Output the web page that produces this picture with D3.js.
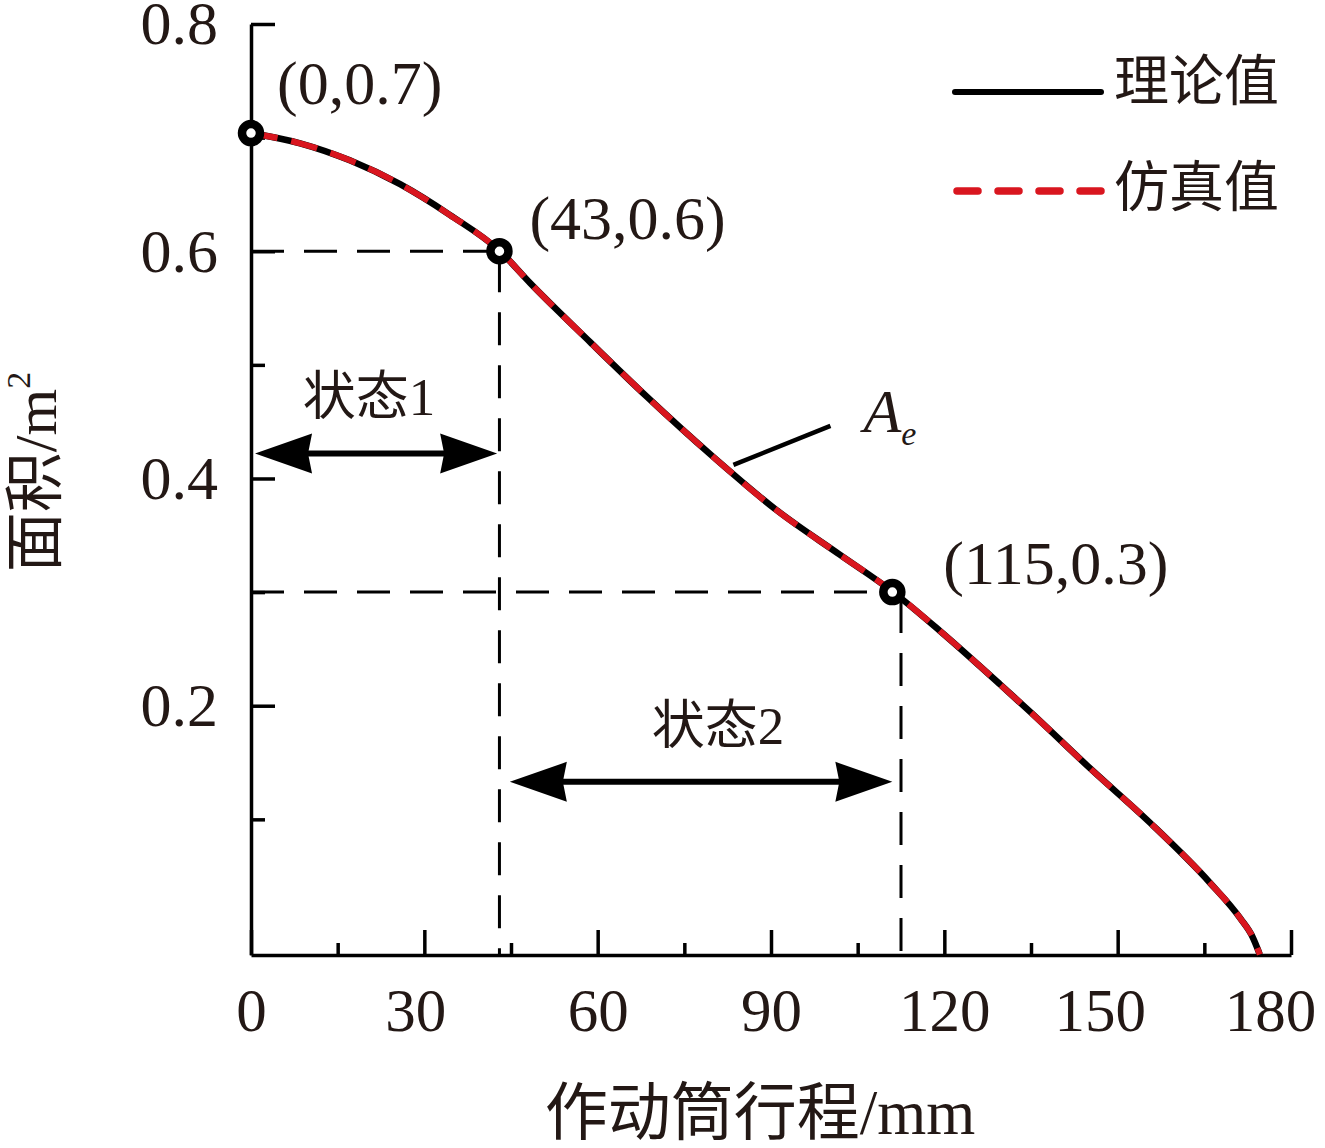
<!DOCTYPE html>
<html>
<head>
<meta charset="utf-8">
<script src="https://cdn.jsdelivr.net/npm/d3@7"></script>
<style>
  html, body { margin: 0; padding: 0; background: #fff; }
  svg { display: block; }
  text { fill: #231815; }
</style>
</head>
<body>
<svg id="chart" width="1325" height="1148"></svg>
<script>
// ---------------- data ----------------
const stroke = [0, 8.5, 17.1, 25.8, 34.4, 43.1, 48.3, 58.7, 68.5, 80.0, 91.0, 101.9, 110.9, 119.2, 129.6, 135.2, 145.2, 155.6, 166.0, 171.2, 173.4, 174.3, 174.6];
const theoryArea = [0.704, 0.695, 0.680, 0.659, 0.632, 0.600, 0.572, 0.520, 0.472, 0.419, 0.372, 0.333, 0.301, 0.266, 0.219, 0.193, 0.145, 0.097, 0.044, 0.013, -0.004, -0.015, -0.019];
const simArea    = [0.704, 0.695, 0.680, 0.659, 0.632, 0.600, 0.572, 0.520, 0.472, 0.419, 0.372, 0.333, 0.301, 0.266, 0.219, 0.193, 0.145, 0.097, 0.044, 0.013, -0.004, -0.015, -0.019];

const xTicks = [0, 30, 60, 90, 120, 150, 180];
const xMinorTicks = [15, 45, 75, 105, 135, 165];
const yTicks = [0.2, 0.4, 0.6, 0.8];
const yMinorTicks = [0.1, 0.3, 0.5, 0.7];

const seriesNames = ["理论值", "仿真值"];

const markerX = [0, 43, 111];
const markerY = [0.704, 0.6, 0.3];
const markerLabels = ["(0,0.7)", "(43,0.6)", "(115,0.3)"];

const guideX = [43, 112.5];       // vertical dashed boundaries
const guideY = [0.6, 0.3];        // horizontal dashed levels

const stateLabels = ["状态1", "状态2"];
const stateFrom = [0.7, 44.8];
const stateTo = [42.6, 111];
const stateLevel = [0.422, 0.133];

const xTitle = "作动筒行程/mm";
const yTitle = "面积/m";

// ---------------- layout ----------------
const svg = d3.select("#chart");
const serif = "'Liberation Serif','Times New Roman','Noto Sans CJK SC',serif";
const x = d3.scaleLinear().domain([0, 180]).range([251, 1291]);
const y = d3.scaleLinear().domain([-0.0194, 0.8]).range([955, 24]);
const ink = "#000";
const red = "#d9161f";

// axes
const gx = svg.append("g").attr("transform", `translate(0,${y.range()[0]})`)
  .call(d3.axisBottom(x).tickValues(xTicks).tickSize(-25).tickSizeOuter(0).tickPadding(33).tickFormat(d3.format("d")));
const gxm = svg.append("g").attr("transform", `translate(0,${y.range()[0]})`)
  .call(d3.axisBottom(x).tickValues(xMinorTicks).tickSize(-12).tickSizeOuter(0).tickFormat(""));
const gy = svg.append("g").attr("transform", `translate(${x.range()[0]},0)`)
  .call(d3.axisLeft(y).tickValues(yTicks).tickSize(-24).tickSizeOuter(0).tickPadding(33).tickFormat(d3.format(".1f")));
const gym = svg.append("g").attr("transform", `translate(${x.range()[0]},0)`)
  .call(d3.axisLeft(y).tickValues(yMinorTicks).tickSize(-14).tickSizeOuter(0).tickFormat(""));
gxm.select(".domain").remove();
gym.select(".domain").remove();
[gx, gxm, gy, gym].forEach(g => {
  g.selectAll("path,line").attr("stroke", ink).attr("stroke-width", 3.5);
  g.selectAll("text").attr("font-family", serif).attr("fill", "#231815");
});
const xLabelShift = {30: -9, 150: -18, 180: -21};
gx.selectAll("text").attr("font-size", 61)
  .attr("dx", d => xLabelShift[d] || 0);
gy.selectAll("text").attr("font-size", 62);

// axis titles
svg.append("text").attr("x", 760).attr("y", 1134).attr("text-anchor", "middle")
  .attr("font-family", serif).attr("font-size", 63).text(xTitle);
const yt = svg.append("text").attr("transform", "translate(56,472) rotate(-90)")
  .attr("text-anchor", "middle").attr("font-family", serif).attr("font-size", 60);
yt.append("tspan").text(yTitle);
yt.append("tspan").attr("font-size", 34).attr("dy", -26).text("2");

// guide dashed lines
const dashed = "33,20";
guideY.forEach((v, i) => {
  const mi = markerY.indexOf(v);
  svg.append("line").attr("x1", x(0)).attr("x2", x(markerX[mi]) - 10)
    .attr("y1", y(v)).attr("y2", y(v))
    .attr("stroke", ink).attr("stroke-width", 3).attr("stroke-dasharray", dashed);
});
guideX.forEach((v, i) => {
  const yTop = y(guideY[i]);
  svg.append("line").attr("x1", x(v)).attr("x2", x(v))
    .attr("y1", yTop + 8).attr("y2", y.range()[0])
    .attr("stroke", ink).attr("stroke-width", 3).attr("stroke-dasharray", dashed);
});

// curves
const line = d3.line().curve(d3.curveMonotoneX);
const theoryPts = stroke.map((s, i) => [x(s), y(theoryArea[i])]);
const simPts = stroke.map((s, i) => [x(s), y(simArea[i])]);
svg.append("path").attr("d", line(theoryPts)).attr("fill", "none")
  .attr("stroke", ink).attr("stroke-width", 6.5);
svg.append("path").attr("d", line(simPts)).attr("fill", "none")
  .attr("stroke", red).attr("stroke-width", 6).attr("stroke-dasharray", "27,14");

// markers
markerX.forEach((mx, i) => {
  svg.append("circle").attr("cx", x(mx)).attr("cy", y(markerY[i])).attr("r", 9)
    .attr("fill", "#fff").attr("stroke", ink).attr("stroke-width", 8.5);
});
const labelOffsets = [[26, -29], [30, -12], [51, -8]];
markerLabels.forEach((t, i) => {
  svg.append("text").attr("x", x(markerX[i]) + labelOffsets[i][0]).attr("y", y(markerY[i]) + labelOffsets[i][1])
    .attr("font-family", serif).attr("font-size", 62).text(t);
});

// state arrows
function arrowHead(xTip, yy, dir) {
  const L = 57, H = 20;
  return `M${xTip},${yy}L${xTip - dir * L},${yy - H}L${xTip - dir * L + dir * 4},${yy}L${xTip - dir * L},${yy + H}Z`;
}
stateLabels.forEach((lab, i) => {
  const x0 = x(stateFrom[i]), x1 = x(stateTo[i]), yy = y(stateLevel[i]);
  svg.append("line").attr("x1", x0 + 40).attr("x2", x1 - 40).attr("y1", yy).attr("y2", yy)
    .attr("stroke", ink).attr("stroke-width", 6);
  svg.append("path").attr("d", arrowHead(x0, yy, -1)).attr("fill", ink);
  svg.append("path").attr("d", arrowHead(x1, yy, 1)).attr("fill", ink);
  const dx = i === 0 ? -7 : 17;
  svg.append("text").attr("x", (x0 + x1) / 2 + dx).attr("y", yy - 38).attr("text-anchor", "middle")
    .attr("font-family", serif).attr("font-size", 53).text(lab);
});

// A_e leader
const lx = x(83.5), ly = y(0.412);
svg.append("line").attr("x1", lx).attr("y1", ly).attr("x2", lx + 97).attr("y2", ly - 39)
  .attr("stroke", ink).attr("stroke-width", 4.5);
const ae = svg.append("text").attr("x", lx + 130).attr("y", ly - 33)
  .attr("font-family", serif).attr("font-style", "italic").attr("font-size", 62);
ae.append("tspan").text("A");
ae.append("tspan").attr("font-size", 34).attr("dy", 13).text("e");

// legend
const legY = [92, 191];
svg.append("line").attr("x1", 955).attr("x2", 1101).attr("y1", legY[0]).attr("y2", legY[0])
  .attr("stroke", ink).attr("stroke-width", 6).attr("stroke-linecap", "round");
svg.append("line").attr("x1", 957).attr("x2", 1101).attr("y1", legY[1]).attr("y2", legY[1])
  .attr("stroke", red).attr("stroke-width", 7.5).attr("stroke-linecap", "round")
  .attr("stroke-dasharray", "21,20");
seriesNames.forEach((n, i) => {
  svg.append("text").attr("x", 1114).attr("y", legY[i] + 10 + (i === 0 ? -2 : 5))
    .attr("font-family", serif).attr("font-size", 55).text(n);
});
</script>
</body>
</html>
